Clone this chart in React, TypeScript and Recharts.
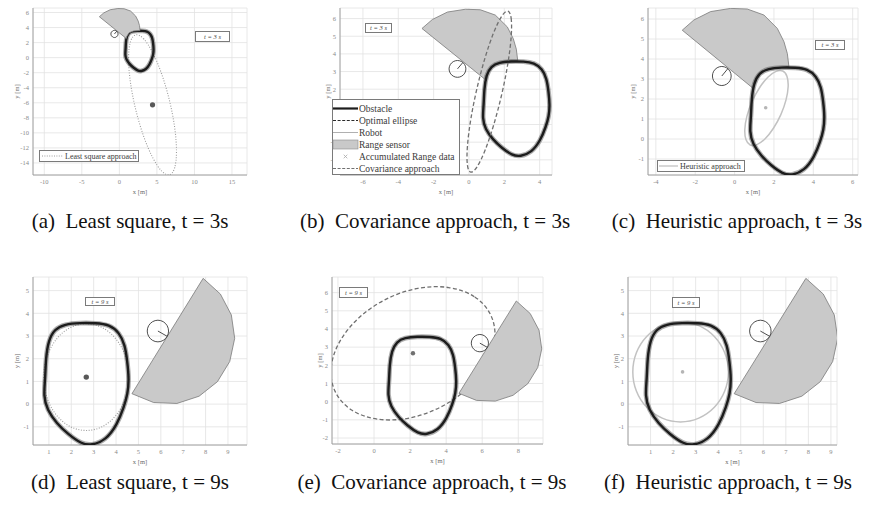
import React from "react";
import { ScatterChart, Scatter, XAxis, YAxis, CartesianGrid, Curve } from "recharts";

type Pt = { x: number; y: number };

// ---- obstacle outline in world coordinates [m], shared by all panels ----
const obstacle: Pt[] = [
  { x: 1.25, y: 3.3 }, { x: 1.7, y: 3.52 }, { x: 2.4, y: 3.58 }, { x: 3.1, y: 3.57 },
  { x: 3.7, y: 3.5 }, { x: 4.15, y: 3.15 }, { x: 4.4, y: 2.6 }, { x: 4.5, y: 1.9 },
  { x: 4.58, y: 1.1 }, { x: 4.52, y: 0.45 }, { x: 4.36, y: -0.1 }, { x: 4.05, y: -0.9 },
  { x: 3.55, y: -1.58 }, { x: 2.9, y: -1.82 }, { x: 2.45, y: -1.75 }, { x: 1.85, y: -1.32 },
  { x: 1.35, y: -0.85 }, { x: 0.92, y: -0.25 }, { x: 0.76, y: 0.35 }, { x: 0.84, y: 1.15 },
  { x: 0.86, y: 2.0 }, { x: 0.98, y: 2.8 },
];

// ---- robot and range sensor footprint, t = 3 s ----
const robotT3: Pt[] = [
  { x: -0.15, y: 3.15 }, { x: -0.22, y: 3.4 }, { x: -0.4, y: 3.58 }, { x: -0.65, y: 3.65 },
  { x: -0.9, y: 3.58 }, { x: -1.08, y: 3.4 }, { x: -1.15, y: 3.15 }, { x: -1.08, y: 2.9 },
  { x: -0.9, y: 2.72 }, { x: -0.65, y: 2.65 }, { x: -0.4, y: 2.72 }, { x: -0.22, y: 2.9 },
];
const headingT3: Pt[] = [{ x: -0.65, y: 3.15 }, { x: -0.35, y: 3.51 }];
const sensorT3: Pt[] = [
  { x: -2.66, y: 5.44 }, { x: -2.07, y: 5.95 }, { x: -1.22, y: 6.37 }, { x: -0.2, y: 6.53 },
  { x: 0.64, y: 6.5 }, { x: 1.49, y: 6.2 }, { x: 2.17, y: 5.53 }, { x: 2.51, y: 4.86 },
  { x: 2.68, y: 4.27 }, { x: 2.76, y: 3.62 }, { x: 1.9, y: 3.55 }, { x: 1.3, y: 3.3 },
  { x: 1.0, y: 2.85 }, { x: 0.92, y: 2.55 },
];

// ---- robot and range sensor footprint, t = 9 s ----
const robotT9: Pt[] = [
  { x: 6.37, y: 3.22 }, { x: 6.3, y: 3.47 }, { x: 6.12, y: 3.65 }, { x: 5.87, y: 3.72 },
  { x: 5.62, y: 3.65 }, { x: 5.44, y: 3.47 }, { x: 5.37, y: 3.22 }, { x: 5.44, y: 2.97 },
  { x: 5.62, y: 2.79 }, { x: 5.87, y: 2.72 }, { x: 6.12, y: 2.79 }, { x: 6.3, y: 2.97 },
];
const headingT9: Pt[] = [{ x: 5.87, y: 3.22 }, { x: 6.28, y: 2.99 }];
const sensorT9: Pt[] = [
  { x: 7.89, y: 5.54 }, { x: 8.66, y: 4.85 }, { x: 9.15, y: 3.93 }, { x: 9.3, y: 2.9 },
  { x: 9.08, y: 1.88 }, { x: 8.53, y: 0.99 }, { x: 7.71, y: 0.35 }, { x: 6.72, y: 0.03 },
  { x: 5.68, y: 0.07 }, { x: 4.71, y: 0.46 },
];

// ---- fitted ellipses (control points of a closed spline) ----
const leastSquareT3: Pt[] = [
  { x: 2.12, y: 3.27 }, { x: 3.18, y: 2.76 }, { x: 4.43, y: 0.87 }, { x: 5.68, y: -2.1 },
  { x: 6.74, y: -5.71 }, { x: 7.45, y: -9.4 }, { x: 7.69, y: -12.61 }, { x: 7.44, y: -14.87 },
  { x: 6.73, y: -15.81 }, { x: 5.66, y: -15.3 }, { x: 4.41, y: -13.41 }, { x: 3.16, y: -10.44 },
  { x: 2.1, y: -6.83 }, { x: 1.39, y: -3.14 }, { x: 1.15, y: 0.07 }, { x: 1.4, y: 2.33 },
];
const covarianceT3: Pt[] = [
  { x: 2.23, y: 6.54 }, { x: 2.42, y: 6.12 }, { x: 2.42, y: 5.05 }, { x: 2.23, y: 3.5 },
  { x: 1.87, y: 1.69 }, { x: 1.4, y: -0.09 }, { x: 0.9, y: -1.56 }, { x: 0.43, y: -2.52 },
  { x: 0.07, y: -2.82 }, { x: -0.12, y: -2.4 }, { x: -0.12, y: -1.33 }, { x: 0.07, y: 0.22 },
  { x: 0.43, y: 2.03 }, { x: 0.9, y: 3.81 }, { x: 1.4, y: 5.28 }, { x: 1.87, y: 6.24 },
];
const heuristicT3: Pt[] = [
  { x: 2.47, y: 3.45 }, { x: 2.69, y: 3.17 }, { x: 2.75, y: 2.65 }, { x: 2.64, y: 1.97 },
  { x: 2.37, y: 1.21 }, { x: 1.98, y: 0.51 }, { x: 1.55, y: -0.03 }, { x: 1.12, y: -0.33 },
  { x: 0.77, y: -0.35 }, { x: 0.55, y: -0.07 }, { x: 0.49, y: 0.45 }, { x: 0.6, y: 1.13 },
  { x: 0.87, y: 1.89 }, { x: 1.26, y: 2.59 }, { x: 1.69, y: 3.13 }, { x: 2.12, y: 3.43 },
];
const leastSquareT9: Pt[] = [
  { x: 4.62, y: 1.19 }, { x: 4.47, y: 2.11 }, { x: 4.05, y: 2.89 }, { x: 3.42, y: 3.42 },
  { x: 2.67, y: 3.6 }, { x: 1.92, y: 3.42 }, { x: 1.29, y: 2.89 }, { x: 0.87, y: 2.11 },
  { x: 0.72, y: 1.19 }, { x: 0.87, y: 0.27 }, { x: 1.29, y: -0.51 }, { x: 1.92, y: -1.04 },
  { x: 2.67, y: -1.22 }, { x: 3.42, y: -1.04 }, { x: 4.05, y: -0.51 }, { x: 4.47, y: 0.27 },
];
const covarianceT9: Pt[] = [
  { x: 6.57, y: 4.85 }, { x: 5.65, y: 5.86 }, { x: 4.2, y: 6.37 }, { x: 2.44, y: 6.33 },
  { x: 0.64, y: 5.72 }, { x: -0.93, y: 4.65 }, { x: -2.03, y: 3.28 }, { x: -2.5, y: 1.81 },
  { x: -2.25, y: 0.47 }, { x: -1.33, y: -0.54 }, { x: 0.12, y: -1.05 }, { x: 1.88, y: -1.01 },
  { x: 3.68, y: -0.4 }, { x: 5.25, y: 0.67 }, { x: 6.35, y: 2.04 }, { x: 6.82, y: 3.51 },
];
const heuristicT9: Pt[] = [
  { x: 4.51, y: 1.42 }, { x: 4.34, y: 2.28 }, { x: 3.87, y: 3.02 }, { x: 3.16, y: 3.51 },
  { x: 2.33, y: 3.68 }, { x: 1.5, y: 3.51 }, { x: 0.79, y: 3.02 }, { x: 0.32, y: 2.28 },
  { x: 0.16, y: 1.42 }, { x: 0.32, y: 0.56 }, { x: 0.79, y: -0.18 }, { x: 1.5, y: -0.67 },
  { x: 2.33, y: -0.84 }, { x: 3.16, y: -0.67 }, { x: 3.87, y: -0.18 }, { x: 4.34, y: 0.56 },
];

// ---- estimated ellipse centres ----
const lsCentreT3: Pt[] = [{ x: 4.42, y: -6.27 }];
const heCentreT3: Pt[] = [{ x: 1.58, y: 1.56 }];
const lsCentreT9: Pt[] = [{ x: 2.67, y: 1.19 }];
const covCentreT9: Pt[] = [{ x: 2.16, y: 2.66 }];
const heCentreT9: Pt[] = [{ x: 2.42, y: 1.42 }];

// ---- axis ticks ----
const xTicksA = [-10, -5, 0, 5, 10, 15];
const yTicksA = [-14, -12, -10, -8, -6, -4, -2, 0, 2, 4, 6];
const xTicksB = [-6, -4, -2, 0, 2, 4];
const yTicksB = [-2, -1, 0, 1, 2, 3, 4, 5, 6];
const xTicksC = [-4, -2, 0, 2, 4, 6];
const yTicksC = [-1, 0, 1, 2, 3, 4, 5, 6];
const xTicksD = [1, 2, 3, 4, 5, 6, 7, 8, 9];
const yTicksD = [-1, 0, 1, 2, 3, 4, 5];
const xTicksE = [-2, 0, 2, 4, 6, 8];
const yTicksE = [-2, -1, 0, 1, 2, 3, 4, 5, 6];

const SERIF = "'Liberation Serif', 'Times New Roman', serif";
const Y_W = 26;
const X_H = 22;
const PAD_T = 4;
const PAD_R = 4;

type Style = {
  stroke: string;
  width: number;
  dash?: string;
  fill?: string;
  opacity?: number;
  curve: "basisClosed" | "linearClosed" | "linear";
};

const obstacleHalo: Style = { stroke: "#4a4a4a", width: 4.8, opacity: 0.45, curve: "basisClosed" };
const obstacleCore: Style = { stroke: "#1c1c1c", width: 2.4, curve: "basisClosed" };
const sensorStyle: Style = { stroke: "#7a7a7a", width: 0.8, fill: "#c9c9c9", curve: "linearClosed" };
const robotStyle: Style = { stroke: "#3a3a3a", width: 0.9, curve: "basisClosed" };
const headingStyle: Style = { stroke: "#3a3a3a", width: 0.9, curve: "linear" };
const lsStyle: Style = { stroke: "#9c9c9c", width: 1.1, dash: "1 1.6", curve: "basisClosed" };
const covStyle: Style = { stroke: "#707070", width: 1.3, dash: "4 2.4", curve: "basisClosed" };
const heStyle: Style = { stroke: "#c2c2c2", width: 1.5, curve: "basisClosed" };

const noMarker = () => <g />;

function outline(key: string, data: Pt[], st: Style) {
  return (
    <Scatter
      key={key}
      data={data}
      isAnimationActive={false}
      shape={noMarker}
      line={(lp: any) => (
        <Curve
          points={lp.points}
          type={st.curve}
          stroke={st.stroke}
          strokeWidth={st.width}
          strokeDasharray={st.dash}
          strokeOpacity={st.opacity}
          fill={st.fill ?? "none"}
          strokeLinejoin="round"
        />
      )}
    />
  );
}

function centreDot(key: string, data: Pt[], r: number, fill: string) {
  return (
    <Scatter
      key={key}
      data={data}
      isAnimationActive={false}
      shape={(sp: any) => <circle cx={sp.cx} cy={sp.cy} r={r} fill={fill} />}
    />
  );
}

function obstacleLayers(k: string) {
  return [outline(k + "-oh", obstacle, obstacleHalo), outline(k + "-oc", obstacle, obstacleCore)];
}

function robotLayers(k: string, robot: Pt[], heading: Pt[]) {
  return [outline(k + "-r", robot, robotStyle), outline(k + "-h", heading, headingStyle)];
}

type Frame = { l: number; t: number; r: number; b: number };

type PanelSpec = {
  id: string;
  frame: Frame;
  xDomain: [number, number];
  yDomain: [number, number];
  xTicks: number[];
  yTicks: number[];
  yLabelGap: number;
  layers: React.ReactNode[];
};

const panels: PanelSpec[] = [
  {
    id: "a",
    frame: { l: 33, t: 8, r: 247, b: 175 },
    xDomain: [-11.5, 17],
    yDomain: [-15.6, 6.6],
    xTicks: xTicksA,
    yTicks: yTicksA,
    yLabelGap: 16,
    layers: [
      outline("a-ls", leastSquareT3, lsStyle),
      ...obstacleLayers("a"),
      outline("a-s", sensorT3, sensorStyle),
      ...robotLayers("a", robotT3, headingT3),
      centreDot("a-c", lsCentreT3, 2.6, "#585858"),
    ],
  },
  {
    id: "b",
    frame: { l: 340, t: 8, r: 552, b: 175 },
    xDomain: [-7.3, 4.7],
    yDomain: [-2.86, 6.6],
    xTicks: xTicksB,
    yTicks: yTicksB,
    yLabelGap: 12,
    layers: [
      outline("b-s", sensorT3, sensorStyle),
      ...obstacleLayers("b"),
      outline("b-cov", covarianceT3, covStyle),
      ...robotLayers("b", robotT3, headingT3),
    ],
  },
  {
    id: "c",
    frame: { l: 648, t: 8, r: 858, b: 175 },
    xDomain: [-4.4, 6.27],
    yDomain: [-1.8, 6.55],
    xTicks: xTicksC,
    yTicks: yTicksC,
    yLabelGap: 15,
    layers: [
      outline("c-s", sensorT3, sensorStyle),
      outline("c-he", heuristicT3, heStyle),
      ...obstacleLayers("c"),
      ...robotLayers("c", robotT3, headingT3),
      centreDot("c-c", heCentreT3, 1.8, "#b5b5b5"),
    ],
  },
  {
    id: "d",
    frame: { l: 33, t: 277, r: 247, b: 445 },
    xDomain: [0.29, 9.85],
    yDomain: [-1.8, 5.6],
    xTicks: xTicksD,
    yTicks: yTicksD,
    yLabelGap: 16,
    layers: [
      outline("d-ls", leastSquareT9, lsStyle),
      ...obstacleLayers("d"),
      outline("d-s", sensorT9, sensorStyle),
      ...robotLayers("d", robotT9, headingT9),
      centreDot("d-c", lsCentreT9, 2.7, "#585858"),
    ],
  },
  {
    id: "e",
    frame: { l: 332, t: 277, r: 543, b: 444 },
    xDomain: [-2.33, 9.37],
    yDomain: [-2.33, 6.86],
    xTicks: xTicksE,
    yTicks: yTicksE,
    yLabelGap: 12,
    layers: [
      outline("e-cov", covarianceT9, covStyle),
      ...obstacleLayers("e"),
      outline("e-s", sensorT9, sensorStyle),
      ...robotLayers("e", robotT9, headingT9),
      centreDot("e-c", covCentreT9, 2.2, "#707070"),
    ],
  },
  {
    id: "f",
    frame: { l: 628, t: 277, r: 837, b: 445 },
    xDomain: [0, 9.27],
    yDomain: [-1.8, 5.6],
    xTicks: xTicksD,
    yTicks: yTicksD,
    yLabelGap: 12,
    layers: [
      outline("f-he", heuristicT9, heStyle),
      ...obstacleLayers("f"),
      outline("f-s", sensorT9, sensorStyle),
      ...robotLayers("f", robotT9, headingT9),
      centreDot("f-c", heCentreT9, 1.8, "#b5b5b5"),
    ],
  },
];

const tickStyle = { fontSize: 6.5, fill: "#8a8a8a", fontFamily: SERIF };

function Panel({ p }: { p: PanelSpec }) {
  const w = p.frame.r - p.frame.l + Y_W + PAD_R;
  const h = p.frame.b - p.frame.t + PAD_T + X_H;
  return (
    <div style={{ position: "absolute", left: p.frame.l - Y_W, top: p.frame.t - PAD_T }}>
      <ScatterChart width={w} height={h} margin={{ top: PAD_T, right: PAD_R, bottom: 0, left: 0 }}>
        <CartesianGrid stroke="#e2e2e2" strokeWidth={0.8} />
        <XAxis
          type="number"
          dataKey="x"
          domain={p.xDomain}
          ticks={p.xTicks}
          allowDataOverflow
          interval={0}
          height={X_H}
          tickLine={false}
          tickSize={2}
          tickMargin={2}
          tick={tickStyle}
          axisLine={{ stroke: "#9a9a9a", strokeWidth: 0.9 }}
          label={{ value: "x [m]", position: "insideBottom", offset: 3, fontSize: 6.5, fill: "#6a6a6a", fontFamily: SERIF }}
        />
        <YAxis
          type="number"
          dataKey="y"
          domain={p.yDomain}
          ticks={p.yTicks}
          allowDataOverflow
          interval={0}
          width={Y_W}
          tickLine={false}
          tickSize={2}
          tickMargin={2}
          tick={tickStyle}
          axisLine={{ stroke: "#9a9a9a", strokeWidth: 0.9 }}
          label={{
            value: "y [m]",
            angle: -90,
            position: "insideLeft",
            offset: Y_W - p.yLabelGap,
            fontSize: 6.5,
            fill: "#6a6a6a",
            fontFamily: SERIF,
            style: { textAnchor: "middle" },
          }}
        />
        {p.layers}
      </ScatterChart>
    </div>
  );
}

function TimeBox({ left, top, w, h, text }: { left: number; top: number; w: number; h: number; text: string }) {
  return (
    <div
      style={{
        position: "absolute",
        left,
        top,
        width: w,
        height: h,
        boxSizing: "border-box",
        border: "1px solid #7a7a7a",
        background: "#fff",
        fontFamily: SERIF,
        fontStyle: "italic",
        fontSize: 6.5,
        lineHeight: `${h - 2}px`,
        textAlign: "center",
        color: "#444",
        whiteSpace: "pre",
      }}
    >
      {text}
    </div>
  );
}

type LegendKind = "obstacle" | "optimal" | "robot" | "sensor" | "data" | "cov" | "ls" | "he";

function Sample({ kind, x0, x1, y }: { kind: LegendKind; x0: number; x1: number; y: number }) {
  switch (kind) {
    case "obstacle":
      return <line x1={x0} x2={x1} y1={y} y2={y} stroke="#1c1c1c" strokeWidth={2.2} />;
    case "optimal":
      return <line x1={x0} x2={x1} y1={y} y2={y} stroke="#2a2a2a" strokeWidth={1.2} strokeDasharray="3 1.6" />;
    case "robot":
      return <line x1={x0} x2={x1} y1={y} y2={y} stroke="#b0b0b0" strokeWidth={1} />;
    case "sensor":
      return <rect x={x0} y={y - 4.5} width={x1 - x0} height={9} fill="#c9c9c9" stroke="#8a8a8a" strokeWidth={0.6} />;
    case "data": {
      const cx = (x0 + x1) / 2;
      return (
        <g stroke="#a8a8a8" strokeWidth={0.8}>
          <line x1={cx - 1.8} x2={cx + 1.8} y1={y - 1.8} y2={y + 1.8} />
          <line x1={cx - 1.8} x2={cx + 1.8} y1={y + 1.8} y2={y - 1.8} />
        </g>
      );
    }
    case "cov":
      return <line x1={x0} x2={x1} y1={y} y2={y} stroke="#707070" strokeWidth={1.2} strokeDasharray="3 1.6" />;
    case "ls":
      return <line x1={x0} x2={x1} y1={y} y2={y} stroke="#9c9c9c" strokeWidth={1} strokeDasharray="1 1.4" />;
    default:
      return <line x1={x0} x2={x1} y1={y} y2={y} stroke="#c2c2c2" strokeWidth={1.3} />;
  }
}

type LegendSpec = {
  left: number;
  top: number;
  w: number;
  h: number;
  fontSize: number;
  sample: [number, number];
  textX: number;
  rows: { kind: LegendKind; label: string; y: number }[];
};

const legends: LegendSpec[] = [
  {
    left: 39, top: 150, w: 100, h: 12, fontSize: 8, sample: [3, 24], textX: 26,
    rows: [{ kind: "ls", label: "Least square approach", y: 6 }],
  },
  {
    left: 332, top: 99, w: 128, h: 76, fontSize: 9.5, sample: [1, 26], textX: 27,
    rows: [
      { kind: "obstacle", label: "Obstacle", y: 9.5 },
      { kind: "optimal", label: "Optimal ellipse", y: 21.5 },
      { kind: "robot", label: "Robot", y: 33.5 },
      { kind: "sensor", label: "Range sensor", y: 45.5 },
      { kind: "data", label: "Accumulated Range data", y: 57.5 },
      { kind: "cov", label: "Covariance approach", y: 69.5 },
    ],
  },
  {
    left: 657, top: 160, w: 88, h: 12, fontSize: 8, sample: [2, 21], textX: 23,
    rows: [{ kind: "he", label: "Heuristic approach", y: 6 }],
  },
];

function LegendBox({ l }: { l: LegendSpec }) {
  return (
    <svg style={{ position: "absolute", left: l.left, top: l.top }} width={l.w} height={l.h}>
      <rect x={0.5} y={0.5} width={l.w - 1} height={l.h - 1} fill="#fff" stroke="#7a7a7a" strokeWidth={1} />
      {l.rows.map((row) => (
        <g key={row.label}>
          <Sample kind={row.kind} x0={l.sample[0]} x1={l.sample[1]} y={row.y} />
          <text
            x={l.textX}
            y={row.y}
            dominantBaseline="central"
            fontFamily={SERIF}
            fontSize={l.fontSize}
            fill="#3a3a3a"
          >
            {row.label}
          </text>
        </g>
      ))}
    </svg>
  );
}

const timeBoxes = [
  { left: 195, top: 31, w: 35, h: 11, text: "t = 3 s" },
  { left: 365, top: 23, w: 27, h: 10, text: "t = 3 s" },
  { left: 815, top: 40, w: 30, h: 10, text: "t = 3 s" },
  { left: 85, top: 297, w: 30, h: 9, text: "t = 9 s" },
  { left: 339, top: 287, w: 29, h: 11, text: "t = 9 s" },
  { left: 672, top: 297, w: 28, h: 11, text: "t = 9 s" },
];

const captions = [
  { cx: 130, top: 211, text: "(a)  Least square, t = 3s" },
  { cx: 435, top: 211, text: "(b)  Covariance approach, t = 3s" },
  { cx: 737, top: 211, text: "(c)  Heuristic approach, t = 3s" },
  { cx: 130, top: 472, text: "(d)  Least square, t = 9s" },
  { cx: 432, top: 472, text: "(e)  Covariance approach, t = 9s" },
  { cx: 728, top: 472, text: "(f)  Heuristic approach, t = 9s" },
];

export default function App() {
  return (
    <div style={{ position: "absolute", left: 0, top: 0, width: 874, height: 508, background: "#fff", overflow: "hidden" }}>
      {panels.map((p) => (
        <Panel key={p.id} p={p} />
      ))}
      {timeBoxes.map((b, i) => (
        <TimeBox key={i} {...b} />
      ))}
      {legends.map((l, i) => (
        <LegendBox key={i} l={l} />
      ))}
      {captions.map((c) => (
        <div
          key={c.text}
          style={{
            position: "absolute",
            left: c.cx - 200,
            top: c.top,
            width: 400,
            textAlign: "center",
            fontFamily: SERIF,
            fontSize: 21,
            lineHeight: "21px",
            color: "#111",
            whiteSpace: "pre",
          }}
        >
          {c.text}
        </div>
      ))}
    </div>
  );
}
